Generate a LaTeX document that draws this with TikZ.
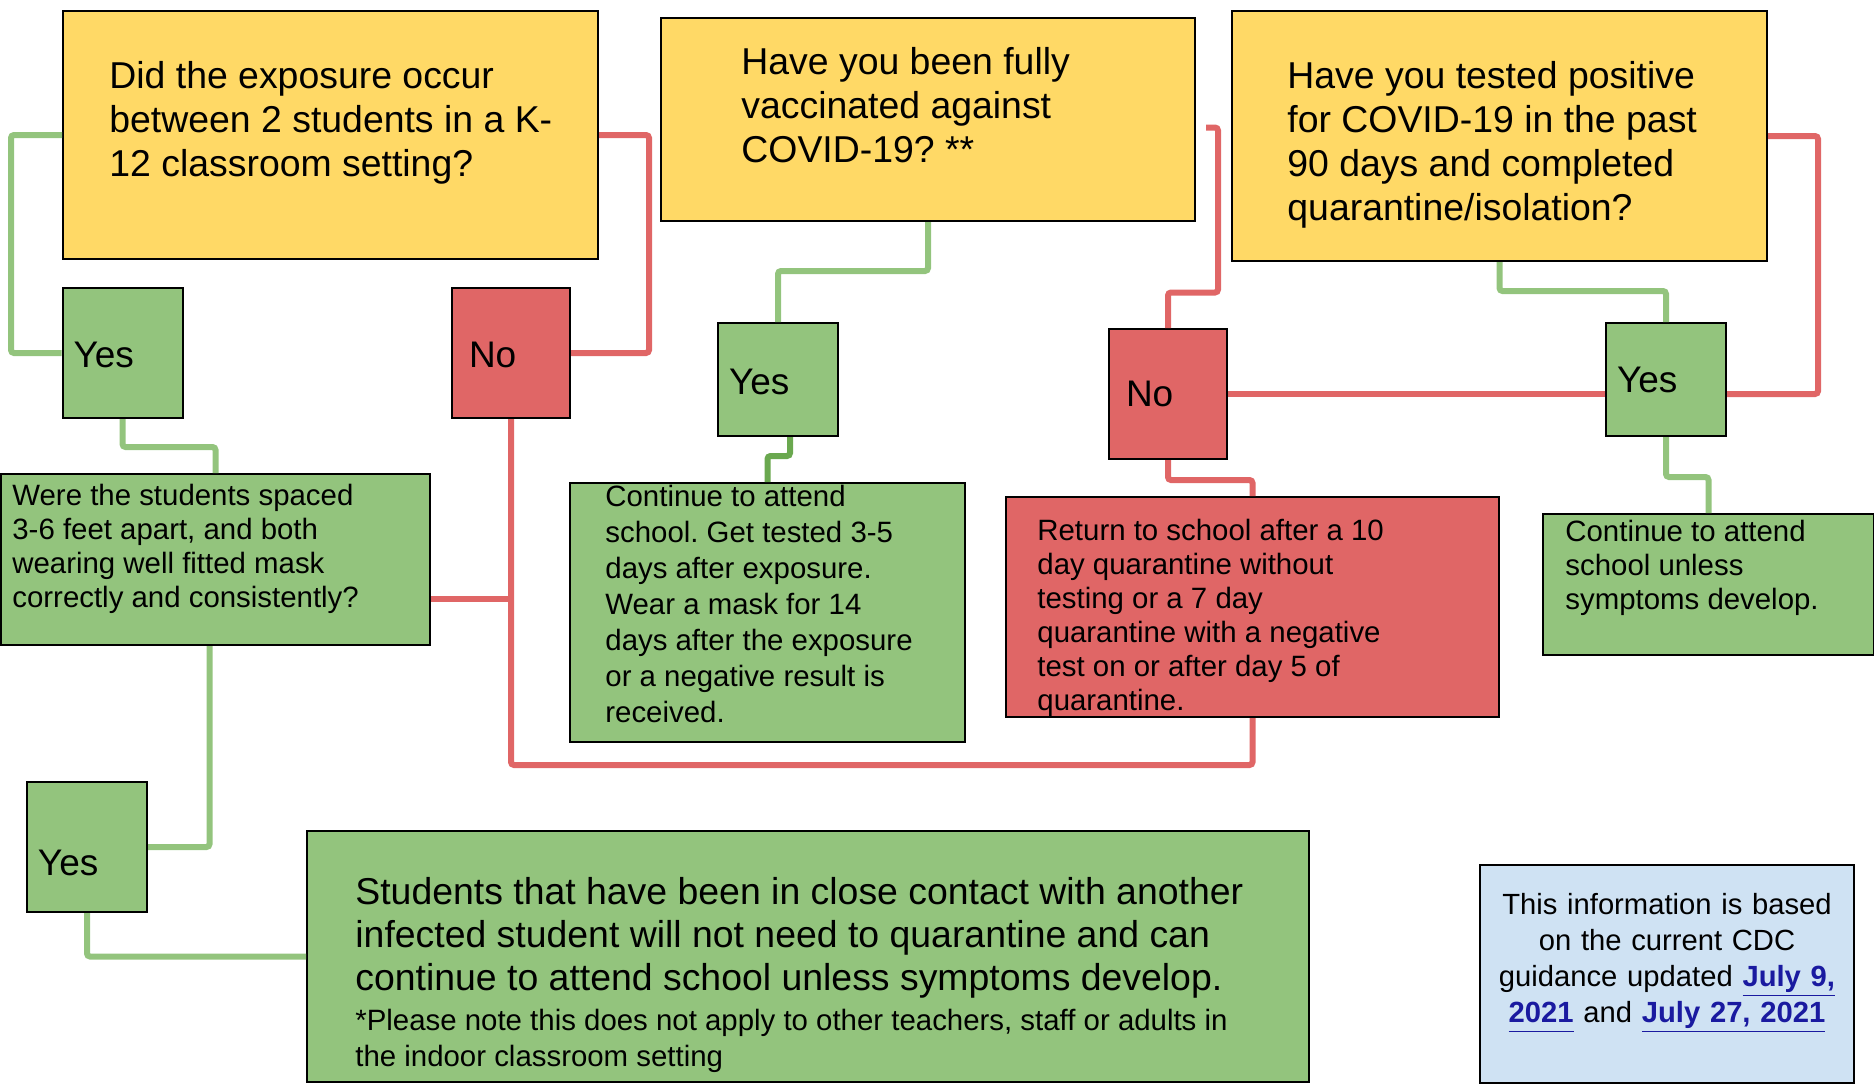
\documentclass[tikz,border=0pt]{standalone}
\usepackage{fontspec}
\setmainfont{Liberation Sans}
\usetikzlibrary{positioning}

\definecolor{qyellow}{HTML}{FFD966}
\definecolor{ygreen}{HTML}{93C47D}
\definecolor{nred}{HTML}{E06666}
\definecolor{dgreen}{HTML}{6AA84F}
\definecolor{infoblue}{HTML}{CFE2F3}
\definecolor{linkblue}{HTML}{1A1AA0}
\newcommand{\cdclink}[1]{\textcolor{linkblue}{\underline{\textbf{#1}\vphantom{y}}}}
\frenchspacing

\begin{document}
\begin{tikzpicture}[x=0.5pt, y=-0.5pt,
    qbox/.style={draw, line width=1pt, fill=qyellow, inner sep=0pt},
    gbox/.style={draw, line width=1pt, fill=ygreen, inner sep=0pt},
    rbox/.style={draw, line width=1pt, fill=nred, inner sep=0pt},
    yesbox/.style={draw, line width=1pt, fill=ygreen, minimum height=65pt, text width=49pt, inner xsep=5.5pt, align=flush left, font=\fontsize{18.5}{22}\selectfont},
    nobox/.style={draw, line width=1pt, fill=nred, minimum height=65pt, text width=42pt, inner xsep=8.5pt, align=flush left, font=\fontsize{18.5}{22}\selectfont},
    bigtxt/.style={inner sep=0pt, align=flush left, font=\fontsize{18.7}{22}\selectfont},
    smalltxt/.style={inner sep=0pt, align=flush left, font=\fontsize{14.7}{17}\selectfont},
    gline/.style={draw=ygreen, line width=3pt, rounded corners=1.5pt},
    dline/.style={draw=dgreen, line width=3pt, rounded corners=1.5pt},
    rline/.style={draw=nred, line width=3pt, rounded corners=1.5pt}]
\useasboundingbox (0,0) rectangle (1874,1088);

% questions
\node[qbox, minimum width=267.5pt, minimum height=124pt] (q1) at (330.5,135) {};
\node[qbox, minimum width=267pt, minimum height=101.5pt] (q2) at (928,119.5) {};
\node[qbox, minimum width=267.5pt, minimum height=125pt] (q3) at (1499.5,136) {};
\node[bigtxt, text width=250pt, below right=25.5pt and 23.5pt of q1.north west] (q1t)
    {Did the exposure occur\\between 2 students in a K-\\12 classroom setting?};
\node[bigtxt, text width=220pt, below right=15pt and 40.5pt of q2.north west] (q2t)
    {Have you been fully\\vaccinated against\\COVID-19? **};
\node[bigtxt, text width=240pt, below right=25.5pt and 28pt of q3.north west] (q3t)
    {Have you tested positive\\for COVID-19 in the past\\90 days and completed\\quarantine/isolation?};

% answers
\node[yesbox] (yes1) at (122.5,353) {\raisebox{-1pt}[\height][\depth]{Yes}};
\node[nobox] (no1) at (511,353) {\raisebox{-1pt}[\height][\depth]{No}};
\node[yesbox, minimum height=56.5pt] (yes2) at (778,379.5) {\raisebox{-1.2pt}[\height][\depth]{Yes}};
\node[nobox] (no2) at (1168,394) {No};
\node[yesbox, minimum height=56.5pt] (yes3) at (1666,379.5) {Yes};
\node[yesbox] (yes4) at (87,847) {\raisebox{-8pt}[\height][\depth]{Yes}};

% outcomes
\node[gbox, minimum width=214.5pt, minimum height=85.5pt] (were) at (215.5,559.5) {};
\node[gbox, minimum width=197.5pt, minimum height=129.5pt] (cont1) at (767.5,612.5) {};
\node[rbox, minimum width=246.5pt, minimum height=110pt] (ret) at (1252.5,607) {};
\node[gbox, minimum width=165.5pt, minimum height=70.5pt] (cont3) at (1708.5,584.5) {};
\node[gbox, minimum width=501pt, minimum height=125.5pt] (stud) at (808,956.5) {};
\node[draw, line width=1pt, fill=infoblue, minimum width=187pt, minimum height=109pt] (info) at (1667,974) {};

\node[smalltxt, text width=205pt, below right=5.5pt and 6pt of were.north west] (weret)
    {Were the students spaced\\3-6 feet apart, and both\\wearing well fitted mask\\correctly and consistently?};
\node[smalltxt, text width=180pt, font=\fontsize{14.7}{18}\selectfont, below right=1.5pt and 18pt of cont1.north west] (cont1t)
    {Continue to attend\\school. Get tested 3-5\\days after exposure.\\Wear a mask for 14\\days after the exposure\\or a negative result is\\received.};
\node[smalltxt, text width=220pt, below right=11.5pt and 16pt of ret.north west] (rett)
    {Return to school after a 10\\day quarantine without\\testing or a 7 day\\quarantine with a negative\\test on or after day 5 of\\quarantine.};
\node[smalltxt, text width=155pt, below right=3.5pt and 11.5pt of cont3.north west] (cont3t)
    {Continue to attend\\school unless\\symptoms develop.};
\node[bigtxt, text width=480pt, font=\fontsize{18.7}{21.5}\selectfont, below right=23.5pt and 24.5pt of stud.north west] (studt)
    {Students that have been in close contact with another\\infected student will not need to quarantine and can\\continue to attend school unless symptoms develop.\par
    \vspace{2pt}{\fontsize{14.7}{18}\selectfont *Please note this does not apply to other teachers, staff or adults in\\the indoor classroom setting\par}};
\node[smalltxt, text width=180pt, align=center, font=\fontsize{14.6}{18}\selectfont, below=14.5pt of info.north] (infot)
    {This information is based\\on the current CDC\\guidance updated \cdclink{July 9,}\\\cdclink{2021} and \cdclink{July 27, 2021}};

% connectors
\coordinate (wj) at (511,599);
\draw[gline] (q1.west) -- ++(-51,0) |- (yes1.west);
\draw[rline] (q1.east) -- ++(50,0) |- (no1.east);
\draw[gline] (yes1.south) -- ++(0,28) -| (were.north);
\draw[rline] (no1.south) -- ++(0,346) -| (ret.south);
\draw[rline] (were.east |- wj) -- (wj);
\draw[gline] (q2.south) -- ++(0,49) -| (yes2.north);
\draw[dline] ([xshift=6pt]yes2.south) -- ++(0,19) -| (cont1.north);
\draw[rline] ([shift={(10,8)}]q2.east) -- ++(12,0) -- ++(0,165) -| (no2.north);
\draw[rline] (no2.east) -- (no2.east -| yes3.west);
\draw[rline] (yes3.east |- no2.east) -- ++(91,0) |- (q3.east);
\draw[gline] (q3.south) -- ++(0,29) -| (yes3.north);
\draw[gline] (yes3.south) -- ++(0,40) -| (cont3.north);
\draw[rline] (no2.south) -- ++(0,20) -| (ret.north);
\draw[gline] ([xshift=-3pt]were.south) |- (yes4.east);
\draw[gline] (yes4.south) |- (stud.west);
\end{tikzpicture}
\end{document}
